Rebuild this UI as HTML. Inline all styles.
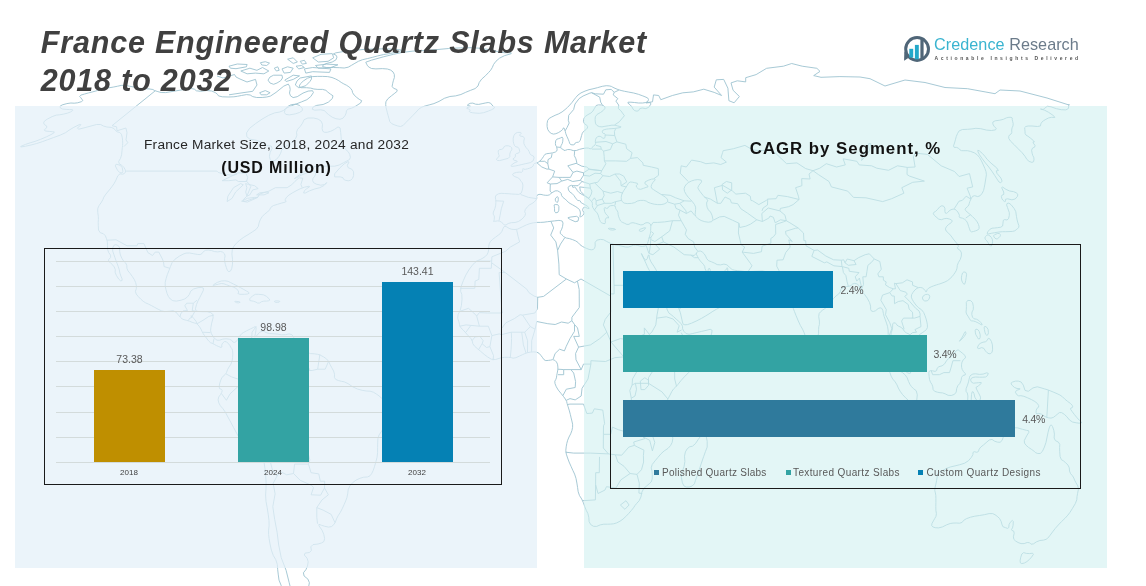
<!DOCTYPE html>
<html lang="en">
<head>
<meta charset="utf-8">
<title>France Engineered Quartz Slabs Market 2018 to 2032</title>
<style>
html,body{margin:0;padding:0;background:#fff;}
body{width:1146px;height:586px;position:relative;overflow:hidden;font-family:"Liberation Sans",sans-serif;}
.abs{position:absolute;}
#title{left:40.8px;top:22.5px;font-size:30.5px;line-height:38px;font-weight:bold;font-style:italic;color:#404040;white-space:nowrap;letter-spacing:0.81px;}
.panel{position:absolute;top:106px;height:462px;}
#pl{left:15px;width:522.4px;background:rgba(228,240,248,0.73);}
#pr{left:584px;width:523px;background:rgba(208,240,240,0.6);}
.box{position:absolute;border:1px solid #1a1a1a;box-sizing:border-box;}
#bl{left:44px;top:248px;width:458px;height:237px;}
#br{left:610px;top:244px;width:471px;height:245px;}
.grid{position:absolute;left:56px;width:434px;height:1px;background:#d3dbdb;}
.bar{position:absolute;}
.lbl{position:absolute;color:#595959;white-space:nowrap;}
.c{transform:translateX(-50%);}
</style>
</head>
<body>
<svg class="abs" id="map" style="left:0;top:0" width="1146" height="586" viewBox="0 0 1146 586"><g fill="none" stroke="#9dc3d0" stroke-width="0.9" stroke-linejoin="round"><path d="M121.1 85.4L125.1 85.4L129.6 86.2L133.9 87.1L137.8 88.0L142.9 88.6L149.0 88.9L152.9 89.5L154.3 90.4L157.1 91.4L161.1 92.5L165.7 92.6L170.9 91.7L176.9 90.7L183.6 89.6L188.6 88.9L191.8 88.6L194.4 89.2L196.4 90.8L200.5 91.3L206.8 90.5L211.7 91.0L215.3 92.6L217.5 94.3L218.5 95.9L222.3 96.8L228.9 97.0L233.9 96.8L237.3 96.3L241.4 95.5L246.5 94.6L250.2 95.0L252.7 96.6L256.7 97.5L262.2 97.5L266.8 97.0L270.4 96.1L276.0 92.4L283.8 86.1L288.3 84.1L289.7 86.5L290.2 89.5L289.5 93.1L290.5 95.8L293.1 97.6L297.2 96.7L303.0 93.1L308.1 91.1L312.5 90.7L313.4 92.5L310.8 96.5L306.9 99.7L301.7 101.8L295.9 104.1L289.7 106.5L285.5 108.6L283.3 110.6L279.7 112.0L274.6 112.9L268.7 115.3L262.0 119.2L255.7 123.5L249.6 128.3L246.6 132.8L246.8 136.7L249.9 139.2L256.1 140.2L260.8 141.9L263.8 144.2L267.2 145.6L271.2 146.0L272.1 148.4L270.1 152.6L269.4 156.3L270.1 159.3L271.6 160.9L274.0 160.9L276.5 159.3L279.0 156.3L280.7 153.2L281.6 150.2L284.5 147.2L289.4 144.2L293.2 141.2L295.8 138.2L296.9 135.2L296.5 132.3L297.6 129.3L300.3 126.4L302.5 123.2L304.1 119.7L307.9 118.0L313.7 118.0L318.1 119.1L321.2 121.2L322.5 124.4L322.1 128.6L322.8 131.3L324.5 132.3L327.1 132.3L330.7 131.3L334.3 129.5L338.0 126.9L340.1 127.9L340.7 132.5L341.1 136.7L341.3 140.7L342.3 144.2L343.9 147.2L345.9 149.7L348.2 151.7L349.7 154.3L350.4 157.3L349.5 159.5L346.8 161.0L343.4 162.8L339.2 165.0L334.6 166.2L329.8 166.2L323.7 166.2L316.4 166.2L310.0 167.9L304.4 171.4L299.2 175.0L294.4 178.5L295.2 178.5L301.7 175.0L307.6 172.5L313.1 171.0L315.8 171.5L315.6 174.0L314.7 176.3L313.0 178.4L312.6 180.5L313.5 182.6L316.2 184.1L320.8 185.2L324.3 184.6L326.8 182.6L326.6 182.9L323.9 185.6L319.8 187.7L314.3 189.1L309.4 190.9L305.3 193.0L303.6 193.0L304.4 190.9L306.4 188.8L309.7 186.7L309.1 186.2L304.5 187.2L300.1 188.8L296.0 190.9L292.2 193.0L288.9 195.1L286.6 197.2L285.3 199.3L285.2 200.7L286.3 201.3L285.0 202.2L281.1 203.2L277.3 204.4L273.3 205.6L270.8 207.4L269.6 209.8L267.5 212.0L264.6 214.1L262.1 216.7L260.2 219.9L259.0 223.1L258.4 226.3L256.2 229.3L252.2 232.0L248.0 234.7L243.8 237.2L239.8 240.1L236.3 243.3L233.7 246.5L232.3 249.7L231.9 254.0L232.5 259.3L232.5 264.1L231.8 268.3L230.6 270.9L228.9 271.7L227.5 270.7L226.4 267.7L225.4 264.6L224.7 261.4L224.6 258.5L225.1 256.0L224.5 253.8L222.7 252.1L220.5 251.5L217.7 251.9L214.6 251.6L211.3 250.5L208.3 250.1L205.6 250.3L203.5 251.5L202.0 253.6L200.0 254.6L197.3 254.4L193.9 253.8L189.6 253.0L186.0 253.1L183.0 254.2L179.3 256.2L175.0 259.2L172.1 262.6L170.5 266.4L169.0 270.4L167.3 274.7L166.1 278.6L165.2 282.3L165.2 286.0L166.0 289.8L167.0 293.3L168.4 296.5L170.3 299.0L172.8 300.7L176.4 301.1L181.1 300.2L184.8 298.9L187.5 296.9L189.4 294.4L190.7 291.2L193.5 289.0L198.0 287.7L201.2 287.4L203.3 288.0L203.4 290.2L201.5 294.1L199.7 297.6L198.0 300.8L196.5 304.5L195.4 308.8L196.2 311.1L198.9 311.5L202.6 311.7L207.2 311.7L210.6 312.6L212.8 314.3L213.1 317.8L211.7 323.1L210.9 327.4L210.6 330.6L211.4 333.8L213.4 337.0L215.3 339.1L217.1 340.2L219.6 340.2L222.8 339.1L226.1 338.8L229.4 339.2L231.7 340.3L232.9 342.0L234.3 342.5L235.8 341.9L237.6 339.7L239.7 336.1L241.7 333.7L243.7 332.4L246.6 330.8L250.5 328.9L253.4 327.5L255.3 326.6L256.2 327.7L255.9 330.7L255.4 333.8L254.6 337.0L256.1 336.4L259.7 332.2L263.1 330.9L266.1 332.6L269.7 333.6L274.0 333.8L278.0 334.2L281.6 334.8L285.4 334.7L289.1 333.9L291.9 334.7L293.6 337.3L294.9 339.6L295.7 341.8L297.9 344.4L301.5 347.6L304.7 350.3L307.4 352.4L310.6 353.6L314.3 353.8L317.6 354.3L320.3 355.2L323.3 356.7L326.4 358.8L328.7 361.4L330.1 364.6L331.8 367.8L333.6 371.0L334.5 374.2L334.4 377.4L335.8 379.5L338.6 380.6L341.4 381.3L344.2 381.8L348.0 383.6L352.7 386.8L357.4 389.0L362.1 390.3L366.3 391.0L370.1 391.2L373.4 392.2L376.2 393.9L379.0 395.9L381.8 398.3L384.9 399.9L388.1 400.7L390.2 403.3L391.2 407.5L391.6 411.6L391.3 415.4L389.9 418.9L387.2 422.1L385.0 425.3L383.3 428.5L381.3 431.7L379.1 434.9L377.9 438.6L377.7 442.9L377.6 447.4L377.6 452.3L377.1 457.1L375.9 461.8L374.6 466.3L373.2 470.5L371.6 473.7L370.0 475.8L367.4 477.0L363.7 477.2L359.9 478.3L355.9 480.2L352.5 482.8L349.8 486.0L348.2 489.7L347.7 493.9L346.9 497.7L345.7 500.9L344.1 504.6L342.2 508.8L340.2 512.6L338.1 515.8L336.5 518.9L335.4 522.1L333.7 524.7L331.5 526.6L328.5 527.1L324.8 526.3L321.6 525.3L318.9 524.3L319.0 525.9L322.0 530.1L323.8 534.4L324.6 538.6L323.9 541.5L321.7 542.9L318.1 544.0L313.0 544.6L310.8 546.8L311.4 550.4L309.5 552.5L305.1 553.1L304.3 555.0L307.1 558.2L308.2 561.8L307.5 566.0L305.9 569.7L303.4 572.8L304.1 576.0L307.9 579.1L309.4 582.7L308.6 586.9L307.8 590.5L306.8 593.6L307.4 596.4L309.7 599.1L310.1 600.6L308.5 601.0L307.2 602.5L306.2 605.2L303.7 605.7L299.7 604.1L295.0 601.2L289.6 597.1L285.0 592.0L281.3 585.8L279.0 580.1L278.3 574.9L277.7 569.7L277.3 564.5L275.8 559.7L273.3 555.5L271.4 550.2L270.0 543.9L269.1 538.6L268.6 534.4L268.6 530.1L269.1 525.9L269.0 520.5L268.2 514.2L267.2 507.8L266.0 501.4L265.6 495.0L266.0 488.6L266.1 482.2L265.7 475.8L265.0 468.7L263.8 460.8L261.5 455.5L258.0 452.8L253.3 449.6L247.4 445.9L243.0 442.5L240.3 439.3L238.0 435.8L236.0 432.0L233.5 427.4L230.7 422.1L227.9 417.0L225.3 412.1L222.7 408.4L220.4 405.8L218.8 402.9L218.1 399.8L218.7 397.0L220.5 394.6L221.7 392.5L222.2 390.6L221.5 389.3L219.6 388.7L219.1 386.6L219.9 382.9L220.8 380.1L221.8 377.9L223.2 376.1L225.1 374.6L226.5 372.5L227.5 369.7L229.0 367.0L230.9 364.2L232.1 361.0L232.6 357.4L232.8 354.0L232.6 350.8L232.1 348.9L231.4 348.2L230.7 347.2L230.0 345.7L228.6 343.9L226.5 341.8L224.5 341.5L222.5 343.2L221.7 345.1L221.9 347.0L221.0 347.5L218.8 346.6L216.5 345.6L214.2 344.3L212.2 343.3L210.5 342.7L208.6 340.9L206.3 337.9L204.5 335.5L203.2 333.6L202.0 331.4L201.0 329.1L199.6 326.9L197.9 324.7L196.2 323.4L194.4 323.0L192.1 322.3L189.5 321.2L186.8 320.4L184.0 319.7L182.0 318.8L180.7 317.5L178.6 315.3L175.9 312.1L173.1 310.7L170.3 311.1L167.5 311.4L164.7 311.6L161.6 310.9L158.1 309.2L154.7 307.4L151.3 305.5L148.3 304.0L145.7 302.9L143.2 301.3L140.8 299.2L138.4 296.7L136.2 294.0L135.4 291.3L136.3 288.8L136.4 285.9L135.7 282.7L134.3 279.5L132.2 276.3L130.1 273.4L128.0 270.9L126.9 268.2L126.8 265.4L125.7 263.0L123.5 260.9L121.8 258.2L120.4 255.0L119.7 251.6L119.7 248.0L118.4 245.7L115.8 244.6L113.9 245.3L112.7 247.9L112.7 251.0L113.9 254.6L115.0 257.8L116.0 260.6L117.1 263.5L118.3 266.7L119.3 269.9L119.9 273.1L120.9 276.1L122.1 278.9L122.1 280.5L120.7 280.9L118.8 279.2L116.3 275.3L115.1 272.2L115.3 269.6L114.2 266.9L111.9 264.2L110.0 262.3L108.5 261.2L108.7 259.6L110.6 257.5L110.6 255.1L108.7 252.6L107.6 249.4L107.5 245.5L107.4 242.8L107.2 241.1L106.5 238.7L105.4 235.8L103.3 233.7L100.2 232.7L98.5 230.0L98.3 225.8L98.2 222.3L98.4 219.5L98.3 216.3L97.8 212.7L97.7 210.0L97.9 208.1L99.2 205.4L101.5 202.1L103.0 199.3L103.8 197.2L105.9 194.1L109.4 189.9L112.1 186.4L114.0 183.7L115.9 180.2L117.8 175.8L120.0 173.8L122.5 174.2L124.3 173.6L125.5 172.0L125.3 169.9L123.9 167.4L121.8 165.3L119.2 163.7L118.7 161.4L120.5 158.3L121.6 154.8L122.0 150.7L122.3 147.7L122.6 145.6L122.7 143.2L122.6 140.2L122.2 137.2L121.4 134.2L119.8 132.5L117.4 131.9L115.5 130.6L114.1 128.6L111.2 127.4L106.9 127.0L103.4 126.0L100.7 124.5L96.6 124.5L91.0 126.0L85.1 127.6L78.8 129.2L77.4 128.2L80.9 124.7L79.7 124.4L73.9 127.3L69.2 130.1L65.5 132.7L60.3 135.1L53.7 137.5L47.7 139.7L42.3 141.7L36.7 143.5L31.0 145.0L25.7 146.2L20.8 147.0L20.8 146.4L25.5 144.4L30.2 142.8L35.0 141.4L40.4 139.4L46.5 136.8L51.0 134.6L53.9 132.9L54.3 131.9L52.3 131.7L49.2 131.4L45.2 131.0L44.3 129.8L46.7 127.8L46.7 126.0L44.3 124.5L43.6 122.9L44.4 121.2L47.3 119.1L52.1 116.6L56.3 115.1L59.7 114.8L63.5 114.1L67.6 113.1L70.7 111.9L72.8 110.4L72.4 109.6L69.5 109.6L66.2 109.4L62.4 109.0L60.4 108.0L60.0 106.3L62.2 104.9L66.9 103.6L70.9 103.0L74.2 103.2L77.6 102.8L81.4 101.7L82.8 100.5L81.9 99.2L80.9 97.8L79.6 96.4L80.9 95.1L84.6 94.0L88.6 92.9L92.9 91.8L97.6 90.5L102.5 89.1L107.7 88.0L113.2 87.1L117.7 86.2L121.1 85.4 M365.8 62.2L371.4 60.2L383.2 56.9L393.5 54.3L402.5 52.4L412.9 51.1L424.7 50.5L436.6 49.6L448.7 48.5L460.2 47.9L471.3 47.7L480.9 48.3L489.0 49.6L495.0 50.8L498.9 52.1L504.3 52.7L511.1 52.7L511.2 53.7L504.7 55.6L499.6 58.1L496.0 61.2L493.6 64.4L492.3 67.5L490.6 70.3L488.4 72.7L485.5 75.7L481.7 79.1L479.2 82.5L478.0 86.0L475.1 88.6L470.4 90.4L465.7 92.3L460.9 94.5L455.6 95.9L449.9 96.5L444.4 98.3L439.0 101.4L433.9 103.6L429.2 104.9L425.1 106.0L421.8 107.1L418.8 109.1L416.2 112.0L413.0 115.3L409.2 119.2L405.9 122.5L403.2 125.4L400.5 126.5L397.8 126.0L394.9 125.0L391.8 123.7L389.8 121.6L389.0 118.7L388.2 115.8L387.4 112.9L386.7 110.1L386.0 107.3L385.7 104.5L385.9 101.8L387.8 98.8L391.6 95.7L394.8 93.2L397.2 91.2L396.8 89.5L393.6 88.3L392.1 86.4L392.6 83.8L393.3 80.8L394.4 77.4L394.3 74.4L393.0 71.9L390.7 70.1L387.4 69.0L382.4 68.6L375.9 68.9L371.5 68.5L369.1 67.2L367.5 65.8L366.7 64.2L366.1 63.0L365.8 62.2 M606.3 85.7L602.3 86.3L597.4 87.7L593.0 88.8L589.0 89.7L585.0 91.1L581.0 92.9L578.0 95.0L575.9 97.4L573.9 99.9L571.8 102.7L569.7 105.1L567.5 107.4L565.0 109.6L562.1 111.9L558.8 113.8L555.1 115.3L551.9 116.9L549.2 118.4L547.6 120.6L547.1 123.5L547.1 126.4L547.7 129.3L549.1 131.7L551.2 133.4L553.5 134.1L555.8 133.7L558.3 132.7L561.1 130.9L562.8 129.3L563.4 127.9L564.1 128.1L564.8 129.9L565.4 131.8L565.8 133.7L566.8 136.2L568.2 139.2L569.2 141.7L569.7 143.6L571.0 144.7L573.2 144.9L574.5 144.4L574.9 143.3L576.3 142.5L578.6 142.1L580.2 140.6L580.9 138.0L581.6 135.5L582.3 133.2L583.8 131.2L586.0 129.6L587.3 128.1L587.7 126.7L586.8 125.3L584.5 123.8L583.5 121.7L583.7 119.3L584.5 117.3L585.9 116.0L588.0 114.6L590.9 113.0L592.9 111.1L594.2 108.8L595.3 107.0L596.2 105.5L598.3 104.9L601.5 105.0L603.8 105.8L605.0 107.1L604.8 108.6L603.1 110.6L600.5 112.5L597.1 114.4L595.3 116.8L595.1 119.6L595.3 122.0L595.7 123.9L597.0 125.5L599.3 126.6L602.0 126.9L604.9 126.3L608.2 125.8L611.9 125.2L614.9 125.2L617.2 125.8L619.2 126.3L621.1 126.9L620.4 127.5L617.2 128.1L614.1 128.5L611.1 128.7L608.6 128.9L606.7 129.1L604.9 129.5L603.1 130.1L602.3 131.2L602.6 132.8L603.3 133.5L604.5 133.5L605.1 134.5L605.1 136.5L604.8 137.8L604.0 138.4L602.7 138.0L600.8 136.6L599.0 136.2L597.4 136.8L596.2 138.0L595.5 139.8L595.3 141.7L595.6 143.6L594.9 145.2L593.2 146.4L592.0 147.5L591.3 148.6L590.1 148.8L588.5 148.1L586.2 148.0L583.0 148.5L579.7 149.3L576.3 150.5L573.2 150.6L570.3 149.6L567.7 149.5L565.4 150.3L564.0 150.4L563.7 149.8L563.0 149.3L561.7 148.9L560.9 148.1L560.7 147.1L561.1 145.6L562.2 143.6L562.8 141.2L562.9 138.2L562.1 137.1L560.6 137.9L558.8 138.6L556.8 139.2L555.7 140.8L555.4 143.4L555.6 145.2L556.4 146.4L556.9 147.9L557.1 149.8L556.7 151.1L555.6 151.9L554.1 152.5L552.4 152.9L549.9 153.3L546.7 153.7L544.9 154.4L544.3 155.2L543.5 156.5L542.3 158.3L541.0 159.9L539.9 161.1L538.6 162.0L537.3 162.6L535.9 163.1L534.4 163.5L533.5 164.4L533.2 165.9L532.0 167.1L529.8 168.1L527.6 168.8L525.3 169.3L523.8 169.2L523.2 168.5L522.8 169.3L522.7 171.3L521.5 172.3L519.2 172.1L516.6 172.4L513.8 173.2L512.6 174.2L513.1 175.5L514.8 176.6L517.7 177.7L519.5 178.8L520.2 180.1L521.2 181.4L522.4 182.9L522.9 185.1L522.7 188.0L522.1 190.7L521.1 193.2L518.8 194.4L515.3 194.2L511.7 194.0L508.0 193.7L504.4 193.5L501.1 193.3L498.3 193.9L496.2 195.1L495.3 197.0L495.7 199.5L495.9 202.3L495.7 205.2L494.9 208.5L493.4 212.1L493.1 214.3L494.0 215.2L494.4 217.0L494.2 219.7L493.9 221.2L493.5 221.4L494.7 221.3L497.6 220.9L499.8 221.2L501.5 222.3L503.0 223.5L504.3 225.0L506.0 225.0L508.2 223.5L511.3 222.7L515.1 222.5L518.4 221.5L521.1 219.8L523.3 217.8L525.0 215.5L525.5 213.5L524.7 211.8L525.3 209.5L527.4 206.8L529.6 204.8L532.1 203.5L534.2 202.0L536.0 200.1L536.8 198.2L536.6 196.3L537.3 195.0L539.0 194.4L541.0 194.4L543.4 195.0L545.7 195.3L547.9 195.3L549.7 194.7L551.0 193.4L552.9 192.2L555.1 190.9L557.4 190.8L559.7 191.9L561.1 193.4L561.6 195.5L562.9 197.4L565.1 199.1L566.9 200.7L568.2 202.2L570.1 203.5L572.5 204.8L575.1 206.3L577.8 208.0L579.6 209.9L580.3 212.0L580.4 214.1L579.9 216.2L580.3 217.0L581.7 216.3L582.9 215.3L583.9 213.8L583.9 212.3L582.8 210.8L582.7 209.2L583.6 207.5L585.2 207.2L587.6 208.3L588.9 208.6L589.1 208.2L588.7 207.4L587.6 206.4L585.4 205.0L582.2 203.3L580.5 202.1L580.5 201.2L579.7 200.7L577.9 200.5L576.1 198.8L574.0 195.6L571.9 193.3L569.7 191.9L568.5 190.0L568.1 187.7L569.2 186.1L571.5 185.3L572.6 185.6L572.4 187.0L573.1 187.5L574.6 187.1L576.0 188.2L577.4 190.7L579.1 192.6L581.1 193.9L583.2 195.1L585.5 196.4L587.6 197.8L589.7 199.5L591.2 200.9L592.0 202.0L592.4 203.5L592.3 205.6L592.8 207.5L593.9 209.2L595.3 211.0L597.1 212.9L598.2 215.1L598.8 217.4L599.5 219.5L600.3 221.4L601.3 222.7L602.8 223.3L604.0 223.6L605.0 223.6L605.4 222.7L605.2 220.8L605.5 219.2L606.3 217.9L607.2 217.6L608.1 218.2L608.5 218.0L608.5 217.0L607.5 215.6L605.8 213.9L604.6 211.6L604.2 208.6L604.8 207.5L606.6 208.4L607.9 208.1L608.7 206.6L610.5 205.7L613.4 205.5L615.1 206.1L615.5 207.3L615.7 208.2L615.7 208.6L616.3 209.5L617.4 211.0L618.0 212.6L618.1 214.3L618.5 216.2L619.3 218.3L620.0 219.9L620.6 221.0L621.5 221.8L622.8 222.5L624.6 223.3L626.9 224.4L629.0 224.3L630.8 223.0L633.0 222.7L635.5 223.3L638.1 224.1L640.8 224.9L643.1 224.6L645.1 223.1L647.1 222.6L649.0 223.0L650.2 223.9L650.7 225.1L650.8 226.8L650.7 228.9L650.6 230.5L650.7 231.6L650.3 233.7L649.4 236.9L648.7 239.6L648.1 241.7L647.5 243.5L646.7 245.0L645.1 246.0L642.8 246.4L641.0 246.4L639.7 246.0L637.9 245.5L635.6 245.1L633.5 245.2L631.8 245.9L630.0 246.5L628.3 247.1L625.6 247.0L622.0 246.2L618.4 245.4L614.8 244.8L611.6 243.8L608.9 242.6L606.2 241.2L603.5 239.7L600.4 239.4L596.8 240.2L595.1 242.5L595.2 246.1L594.5 248.4L593.1 249.5L591.3 249.8L589.1 249.4L586.3 248.3L582.7 246.6L580.0 244.7L578.2 242.6L575.7 240.9L572.5 239.6L569.4 238.6L566.3 238.0L564.2 237.0L563.0 235.8L561.7 234.6L560.3 233.5L560.3 231.7L561.7 229.2L562.6 226.3L563.0 223.1L562.3 221.2L560.6 220.6L558.9 220.4L557.1 220.6L554.5 220.9L551.0 221.3L547.5 221.7L544.0 222.2L540.5 222.4L537.0 222.4L533.5 222.8L529.9 223.6L526.4 224.9L522.8 226.6L519.9 228.0L517.7 229.1L515.0 229.5L511.9 229.3L509.1 228.4L506.8 226.9L505.1 226.3L504.2 226.5L503.2 228.2L501.9 231.4L500.2 233.7L498.2 235.2L495.6 237.1L492.4 239.5L490.3 241.7L489.2 243.8L488.7 246.5L488.7 249.7L488.1 252.4L487.1 254.5L485.4 256.4L482.9 258.1L480.3 259.5L477.6 260.6L474.7 262.7L471.8 265.9L468.8 270.0L465.8 275.1L463.3 280.7L461.1 286.6L460.6 291.2L461.8 294.4L462.0 299.2L461.4 305.6L460.1 310.7L458.1 314.5L457.7 318.2L458.9 321.9L459.5 324.4L459.7 325.9L460.8 327.7L463.0 329.8L465.0 332.0L466.8 334.1L468.8 336.3L471.0 338.7L472.3 341.1L472.8 343.7L474.5 346.1L477.2 348.5L480.5 351.2L484.2 354.4L487.8 357.1L491.3 359.2L495.5 359.5L500.4 358.0L504.7 357.3L508.4 357.3L511.2 357.6L513.1 358.2L515.9 357.7L519.6 356.0L522.6 354.6L524.9 353.6L527.5 352.7L530.5 352.1L533.5 351.9L536.7 352.1L539.2 353.4L541.1 355.7L542.7 357.8L544.0 359.7L545.8 360.6L548.3 360.4L550.6 360.1L552.8 359.6L554.8 360.3L556.5 362.0L557.5 364.2L557.9 367.0L557.8 370.0L557.2 373.1L556.7 375.8L556.4 377.9L555.7 379.7L554.8 381.2L555.0 383.6L556.3 386.8L558.3 390.1L561.1 393.5L563.5 396.5L565.3 399.0L566.6 401.3L567.1 403.5L568.1 406.7L569.4 410.9L570.4 414.7L571.1 417.8L571.9 421.0L572.6 424.2L572.6 427.4L571.9 430.6L570.7 433.8L569.0 437.0L567.7 440.2L566.8 443.4L566.2 446.8L565.8 450.4L566.3 454.1L567.6 458.0L569.1 462.0L571.0 466.3L572.8 470.3L574.6 474.1L576.0 478.4L576.9 483.1L577.6 487.6L578.2 491.8L579.5 495.6L581.7 499.0L583.4 502.8L584.8 506.8L586.3 510.4L587.9 513.6L588.8 517.3L589.1 521.6L590.7 524.6L593.5 526.3L596.7 526.4L600.2 524.9L603.8 524.2L607.3 524.2L610.6 524.1L613.6 523.8L616.7 522.9L620.0 521.2L623.0 519.1L625.8 516.5L628.6 513.6L631.4 510.4L633.5 507.8L634.9 505.6L636.8 503.3L639.2 500.7L640.9 497.0L641.9 492.1L643.8 488.4L646.8 485.8L649.3 483.7L651.2 482.0L652.2 479.0L652.3 474.8L652.0 471.1L651.2 467.9L652.2 464.5L655.1 460.8L658.0 457.3L660.9 453.9L664.2 450.9L668.0 448.4L670.6 445.5L672.2 442.3L672.8 438.6L672.4 434.3L672.1 430.1L672.0 425.8L671.2 421.6L669.6 417.3L668.6 413.4L668.3 409.8L667.7 406.6L666.8 403.8L667.0 401.0L668.3 398.3L670.0 395.1L671.8 391.5L673.7 388.8L675.6 387.1L678.0 384.4L680.8 380.8L684.3 376.9L688.6 372.6L692.8 368.4L696.9 364.1L700.3 359.3L703.0 354.0L705.2 349.2L707.0 344.9L708.8 340.8L710.5 336.8L711.7 333.2L712.1 330.3L710.2 329.3L706.0 330.4L701.6 331.4L696.9 332.5L692.8 333.5L689.1 334.3L686.1 333.6L683.8 331.2L682.6 328.8L682.5 326.2L681.3 323.8L678.8 321.4L676.1 319.0L673.3 316.4L670.9 314.5L669.0 313.2L667.3 310.0L665.9 304.9L663.9 301.3L661.4 299.2L659.9 296.0L659.4 291.7L658.4 288.0L656.8 284.8L655.2 281.6L653.6 278.4L651.7 274.7L649.3 270.4L647.4 266.7L646.0 263.5L644.1 259.4L641.7 254.3L641.4 253.5L643.2 257.1L644.7 259.4L646.0 260.2L647.2 258.8L648.3 255.2L649.0 255.0L649.4 258.2L651.0 261.9L653.9 266.2L656.2 270.1L657.8 273.7L660.3 278.0L663.6 282.9L666.2 287.5L668.2 291.7L670.7 296.0L673.6 300.2L676.3 304.2L678.6 307.8L680.4 312.8L681.8 319.2L682.7 323.0L683.3 324.3L684.9 324.8L687.5 324.6L691.5 323.2L697.0 320.7L701.6 318.3L705.2 316.2L709.0 313.9L712.9 311.3L716.5 309.2L719.8 307.5L722.7 305.7L725.4 303.8L728.0 301.6L730.6 299.3L732.6 296.5L733.8 293.3L735.4 291.2L737.1 290.1L738.8 288.0L740.4 284.8L740.0 282.0L737.6 279.7L735.0 278.1L732.0 277.3L729.9 275.8L728.6 273.6L727.9 271.2L727.6 268.4L727.2 267.7L726.6 269.0L725.7 270.0L724.5 270.9L723.1 272.3L721.4 274.2L718.9 275.3L715.7 275.8L713.1 275.6L711.2 274.7L710.3 273.0L710.3 270.4L709.9 268.9L709.1 268.2L708.4 269.1L707.9 271.4L707.0 271.8L705.8 270.3L705.0 268.5L704.7 266.4L703.4 264.3L701.3 262.1L699.7 260.2L698.6 258.5L697.6 256.6L696.5 254.5L696.5 252.9L697.4 251.8L698.7 251.2L700.3 251.0L702.1 251.8L704.1 253.7L705.6 256.1L706.8 258.8L708.7 260.8L711.5 261.8L714.4 263.1L717.2 264.6L720.4 264.9L723.9 264.1L726.9 264.8L729.3 267.1L731.1 268.7L732.3 269.6L734.4 270.2L737.6 270.7L741.0 271.1L744.6 271.5L748.7 271.6L753.3 271.4L757.8 271.2L762.3 271.0L765.1 271.5L766.1 272.8L767.7 274.6L769.7 276.9L771.7 279.2L773.7 281.3L774.8 282.8L774.9 283.6L776.2 285.6L778.9 288.5L781.3 290.1L783.5 290.3L785.2 289.7L786.4 288.2L787.5 288.0L788.7 289.1L789.5 291.7L789.9 296.0L790.7 300.2L792.0 304.5L793.2 308.2L794.4 311.4L796.1 315.7L798.3 321.0L800.4 325.5L802.5 329.1L804.0 332.4L805.1 335.4L806.4 338.6L807.8 342.0L809.0 343.9L810.0 344.3L811.1 343.7L812.3 342.0L813.6 340.7L815.1 339.8L816.5 338.3L817.9 336.2L818.6 333.3L818.6 329.7L818.8 326.7L819.4 324.4L819.4 321.0L818.7 316.5L819.2 313.4L820.7 311.7L822.6 310.1L824.8 308.7L826.9 306.7L828.9 304.4L831.2 301.6L833.6 298.4L836.1 295.9L838.7 294.0L840.3 291.8L840.9 289.5L842.3 287.9L844.4 287.1L846.6 286.5L849.0 286.3L851.0 285.5L852.6 284.0L854.6 283.4L857.1 283.9L859.0 285.7L860.3 288.9L862.2 291.8L864.7 294.6L867.2 298.1L869.5 302.4L870.6 306.1L870.6 309.3L871.5 311.1L873.4 311.5L875.6 310.7L878.2 308.5L880.2 307.8L881.8 308.4L882.8 310.4L883.4 313.5L884.2 316.7L885.4 319.9L886.5 323.1L887.5 326.3L888.1 330.0L888.2 334.3L888.2 338.2L888.0 341.9L889.1 345.1L891.5 347.8L893.5 350.3L895.1 352.4L895.9 354.5L896.0 356.7L896.5 359.3L897.3 362.5L898.4 365.0L899.7 366.7L901.4 368.3L903.5 369.7L905.5 371.2L907.4 372.7L909.1 373.4L910.6 373.1L910.6 371.6L909.0 368.6L908.1 365.3L907.8 361.7L906.8 358.5L905.0 355.7L903.6 353.8L902.6 352.7L901.2 351.5L899.2 350.3L897.8 349.2L896.8 348.4L895.8 346.6L894.7 344.1L893.5 342.0L892.1 340.3L891.3 338.1L890.9 335.6L891.2 332.9L892.1 330.2L892.6 327.2L892.7 324.0L893.7 322.7L895.6 323.3L896.6 324.1L896.7 324.9L898.2 326.0L901.0 327.3L903.0 329.0L904.2 331.1L906.2 332.8L909.1 334.1L911.1 336.2L912.2 339.2L912.6 341.1L912.2 342.0L913.6 341.1L916.6 338.6L918.4 336.6L918.8 335.4L920.1 334.1L922.2 332.8L924.3 331.3L926.4 329.6L927.4 327.5L927.4 324.9L926.9 322.1L926.1 318.9L925.0 315.7L923.7 312.5L921.6 309.8L918.5 307.7L915.9 305.0L913.6 301.8L912.1 299.2L911.3 297.1L911.6 294.7L913.1 292.2L914.9 290.0L917.0 288.3L919.0 287.5L920.8 287.5L922.5 288.0L923.9 289.1L925.0 290.3L925.8 291.8L926.5 291.6L927.1 289.7L928.7 288.1L931.2 286.8L933.8 285.8L936.4 284.9L938.4 284.3L939.8 283.9L942.0 283.1L944.9 282.0L947.6 280.6L950.0 278.6L952.0 276.7L953.5 274.8L954.9 272.8L956.2 270.7L957.0 268.2L957.3 265.4L958.4 262.5L960.3 259.3L961.3 256.1L961.4 252.9L960.3 250.5L958.1 249.1L957.4 247.7L958.4 246.4L957.8 244.5L955.6 241.9L953.3 239.1L951.0 235.9L948.6 233.2L946.2 231.1L945.4 228.9L946.3 226.8L948.3 224.7L951.3 222.6L952.3 221.0L951.4 219.9L949.6 219.1L946.9 218.4L944.2 218.7L941.4 219.7L938.8 219.2L936.2 217.1L934.4 215.3L933.3 213.8L933.7 212.5L935.5 211.4L937.5 209.5L939.8 206.8L941.9 205.7L943.9 206.4L944.9 208.3L944.9 211.4L945.4 213.1L946.3 213.4L947.6 212.6L949.1 210.9L951.0 209.7L953.1 209.1L955.0 209.3L956.4 210.4L957.8 212.0L959.0 214.1L959.4 215.7L959.0 216.7L960.0 217.6L962.5 218.2L964.6 219.3L966.3 220.8L967.6 223.1L968.6 226.3L969.5 228.9L970.3 231.1L971.6 231.9L973.4 231.5L975.5 230.9L977.8 230.0L979.0 228.6L979.1 226.7L978.5 224.5L977.2 221.9L975.2 219.3L972.4 216.5L969.7 214.1L967.1 212.0L965.6 210.4L965.1 209.3L965.8 208.1L967.6 206.6L968.8 205.0L969.3 203.3L969.8 201.6L970.5 200.0L971.4 198.2L972.6 196.3L974.7 195.7L977.7 196.6L980.2 195.7L982.2 193.2L983.6 190.4L984.3 187.2L984.9 184.1L985.4 181.0L985.9 177.9L986.4 174.8L986.0 171.7L984.9 168.5L983.3 164.9L981.5 160.9L979.5 157.5L977.3 154.9L974.3 152.8L970.5 151.4L967.5 150.7L965.1 150.7L963.1 150.7L961.6 150.7L960.0 149.9L958.5 148.2L956.5 147.4L954.2 147.4L953.5 145.9L954.5 143.0L955.4 139.8L956.3 136.4L957.6 133.4L959.1 130.9L962.4 129.5L967.5 129.3L972.0 128.9L975.9 128.3L980.8 128.7L986.6 130.1L991.5 130.5L995.5 129.9L996.2 128.4L993.9 126.1L992.8 123.9L992.9 122.0L995.2 120.8L999.8 120.2L1003.4 119.3L1006.3 117.9L1008.9 117.3L1011.1 117.3L1012.2 117.9L1012.2 119.3L1012.6 121.2L1013.2 123.7L1013.0 125.9L1012.1 127.8L1011.7 130.0L1011.8 132.4L1011.1 134.0L1009.5 135.0L1008.7 136.5L1008.8 138.5L1010.7 141.3L1014.3 144.8L1018.1 148.7L1022.1 152.7L1025.0 156.3L1026.8 159.3L1029.1 161.4L1031.9 162.4L1033.6 161.7L1034.0 159.2L1033.7 157.2L1032.8 155.6L1032.1 153.2L1031.6 150.2L1032.5 148.1L1034.7 147.1L1035.0 145.4L1033.3 143.1L1033.1 141.9L1034.4 141.9L1033.4 140.6L1030.3 138.0L1027.9 136.2L1026.1 135.2L1025.1 133.5L1025.0 131.2L1024.8 129.2L1024.7 127.6L1025.8 126.5L1028.1 126.0L1032.0 126.0L1037.6 126.5L1040.5 125.9L1040.8 123.9L1041.8 122.2L1043.6 120.7L1045.9 119.3L1048.7 117.9L1051.6 117.3L1054.8 117.5L1053.7 115.8L1048.4 112.2L1044.2 110.0L1041.1 109.2L1040.5 109.0L1042.4 109.4L1043.8 109.1L1044.8 108.2L1046.0 107.2L1047.5 106.3L1051.0 106.8L1056.4 108.7L1061.3 109.7L1065.9 109.9L1068.4 108.5L1068.8 105.5L1069.0 104.3L1069.0 105.0L1047.0 98.0L1020.0 91.0L1000.0 90.0L995.0 93.7L967.5 88.7L945.0 87.5L925.0 82.5L905.0 80.0L885.0 86.0L870.0 78.7L860.0 77.0L839.9 76.6L821.0 77.3L813.7 75.6L820.0 71.4L816.9 68.3L802.2 66.2L791.7 63.5L783.4 66.2L766.6 68.3L756.1 74.6L745.7 77.7L745.7 81.9L737.3 80.8L731.0 82.9L733.1 90.3L739.4 96.5L734.1 102.8L728.9 100.7L727.9 88.2L723.7 79.4L716.3 79.8L714.2 87.1L721.6 95.5L714.2 92.4L703.8 89.2L693.3 91.9L682.8 92.8L672.4 95.5L660.8 99.7L658.7 95.5L653.5 94.9L652.5 101.8L646.0 102.8L650.4 102.6L650.9 104.1L648.7 107.3L645.8 108.6L642.2 108.0L639.8 108.6L638.7 110.6L637.0 111.2L634.8 110.7L633.1 109.2L632.0 107.0L630.3 105.0L627.9 103.1L628.1 102.2L630.9 102.2L634.4 102.5L638.7 103.0L642.6 103.0L645.9 102.5L647.9 101.3L648.5 99.5L647.8 98.1L646.0 97.2L642.8 95.9L638.4 94.3L633.7 93.0L628.8 92.1L624.6 91.3L621.1 90.5L617.9 89.5L615.0 88.3L612.9 87.3L611.4 86.4L609.2 85.9L606.3 85.7 M627.2 203.6L624.1 203.1L622.4 201.8L621.4 200.0L621.2 197.4L621.6 195.1L622.4 193.0L623.7 190.7L625.4 188.2L627.0 185.7L628.4 183.2L630.2 182.0L632.4 182.2L634.8 182.7L637.3 183.3L637.8 184.2L636.3 185.5L636.4 187.0L638.3 188.9L640.7 189.3L643.6 188.3L646.0 187.4L648.0 186.8L647.6 185.6L644.9 183.7L645.1 181.9L648.2 180.3L651.4 179.2L654.7 178.8L655.2 179.9L653.0 182.3L651.6 184.6L651.1 186.7L651.7 188.4L653.5 189.6L655.9 191.2L659.0 193.1L662.2 195.1L665.5 197.2L667.4 199.2L667.8 201.1L666.7 202.7L664.1 204.0L661.1 204.6L657.7 204.6L654.2 204.2L650.7 203.3L648.0 202.3L646.2 201.0L643.6 200.4L640.2 200.4L637.2 201.1L634.8 202.6L631.4 203.4L627.2 203.6 M684.1 188.6L684.5 191.4L686.3 194.6L688.2 197.2L690.3 199.3L692.4 201.7L694.5 204.5L695.6 207.1L695.6 209.6L695.4 212.1L695.1 214.4L696.0 216.6L698.2 218.8L701.1 220.5L704.8 221.7L708.3 222.2L711.7 221.7L713.0 219.4L712.0 215.2L710.5 212.0L708.4 209.9L707.1 207.2L706.6 204.1L706.8 202.0L707.8 200.9L707.3 199.5L705.3 197.8L702.9 195.2L700.1 191.6L698.4 189.1L697.8 187.7L698.9 185.3L701.6 181.9L701.2 180.1L697.8 179.6L694.6 180.0L691.4 181.0L688.8 182.3L686.6 184.0L685.0 186.1L684.1 188.6 M703.6 431.9L705.7 433.8L707.2 441.3L707.2 447.1L705.5 451.4L703.6 456.7L701.4 463.1L699.3 469.5L697.1 475.8L695.4 480.6L694.4 483.8L692.2 486.0L689.1 487.0L686.3 487.0L684.0 486.0L682.4 482.8L681.4 477.4L681.9 472.1L684.0 466.8L684.9 461.5L684.5 456.2L685.4 451.9L687.3 448.7L689.7 446.8L692.5 446.2L695.4 443.7L698.3 439.4L701.1 435.5L703.6 431.9 M510.8 165.7L511.6 166.4L515.2 166.0L518.6 165.3L521.9 164.5L525.9 163.6L530.5 162.6L533.2 160.7L534.1 157.8L533.4 156.0L531.3 155.2L529.9 153.7L529.2 151.7L528.0 149.7L526.1 147.6L524.8 145.6L523.9 143.6L523.8 141.2L524.4 138.2L523.2 136.5L520.2 136.1L519.6 135.0L521.3 133.2L520.7 132.4L517.6 132.4L515.4 133.4L513.9 135.6L513.2 138.2L513.2 141.2L513.7 143.6L514.5 145.6L515.9 146.8L517.9 147.2L519.1 148.8L519.7 151.4L518.7 153.0L516.3 153.6L515.2 154.7L515.5 156.1L514.8 157.5L513.0 158.9L513.7 160.1L516.8 160.9L517.3 161.7L515.1 162.5L513.0 163.8L510.8 165.7 M508.2 158.4L509.8 156.7L509.8 154.1L510.5 151.7L511.8 149.7L511.8 147.9L510.4 146.5L508.4 145.8L505.7 145.8L504.1 146.6L503.4 148.3L501.8 149.3L499.4 149.7L498.2 150.8L498.3 152.6L498.6 154.3L499.2 155.7L498.6 157.1L496.8 158.5L496.5 159.6L497.6 160.5L499.5 160.6L502.0 160.0L504.9 159.2L508.2 158.4 M470.1 103.3L472.8 103.1L475.6 104.2L478.7 104.4L482.1 103.7L485.3 103.0L488.2 102.5L490.5 103.1L492.0 105.0L493.3 106.3L494.5 107.2L494.0 108.4L491.7 109.7L488.3 111.1L483.6 112.7L479.5 113.3L475.9 113.1L472.8 112.8L470.1 112.2L469.2 111.3L470.2 110.2L469.4 109.2L466.8 108.5L467.0 107.6L470.2 106.7L470.4 106.0L467.7 105.7L467.6 104.8L470.1 103.3 M987.3 233.8L988.7 233.9L991.3 233.3L994.7 232.7L998.9 232.0L1002.5 231.7L1005.7 231.7L1009.0 231.6L1012.5 231.4L1014.9 230.8L1016.2 229.7L1017.5 228.6L1018.7 227.6L1018.9 225.7L1017.9 222.9L1017.1 219.9L1016.5 216.7L1016.1 214.0L1015.8 211.7L1014.2 208.6L1011.2 204.8L1008.9 203.1L1007.0 203.5L1006.6 205.0L1007.5 207.5L1008.4 210.1L1009.3 212.6L1009.3 215.5L1008.5 218.7L1007.0 220.0L1004.7 219.6L1003.4 220.2L1003.1 221.9L1002.9 223.9L1002.6 226.0L1000.8 227.2L997.5 227.7L994.6 228.0L992.0 228.2L989.8 229.4L988.0 231.5L987.2 233.0L987.3 233.8 M1004.5 201.6L1005.4 201.4L1005.4 199.3L1007.6 198.8L1011.9 199.8L1015.2 199.0L1017.5 196.3L1017.8 194.2L1016.1 192.7L1013.4 191.6L1009.6 191.0L1006.0 189.4L1002.4 186.9L1001.7 187.8L1003.7 192.0L1003.8 194.4L1002.2 195.0L1001.4 196.3L1001.7 198.2L1002.7 200.0L1004.5 201.6 M987.1 235.0L988.4 235.1L990.1 236.0L991.4 237.5L992.4 239.6L992.6 241.9L992.1 244.5L991.4 245.9L990.6 246.1L989.5 245.0L988.1 242.7L986.8 240.8L985.3 239.3L984.9 237.9L985.5 236.6L986.3 235.6L987.1 235.0 M993.6 235.8L994.7 234.6L997.5 233.5L999.4 233.5L1000.3 234.6L1000.4 235.6L999.8 236.7L998.7 237.8L997.4 238.8L996.1 238.9L994.9 238.1L994.0 237.0L993.6 235.8 M999.0 182.0L1000.7 182.8L1002.1 181.1L1000.9 178.0L997.0 173.4L996.2 170.9L998.4 170.5L996.7 167.9L991.1 163.2L987.1 159.3L984.9 156.3L982.3 153.4L979.3 150.8L977.8 150.3L978.0 151.9L979.5 154.8L982.3 158.8L985.4 162.9L988.8 167.0L991.8 171.1L994.6 175.3L996.9 178.9L999.0 182.0 M962.5 273.0L963.9 271.9L965.8 272.4L966.6 274.2L966.2 277.4L965.7 280.6L964.9 283.8L963.9 284.3L962.4 282.2L961.6 280.0L961.4 277.9L961.7 275.6L962.5 273.0 M922.4 297.9L923.1 296.1L925.3 294.6L927.4 294.3L929.3 295.1L929.8 296.8L928.9 299.4L927.2 300.8L924.8 301.0L923.2 300.0L922.4 297.9 M818.9 340.4L820.1 339.3L822.8 341.6L824.8 344.1L826.0 346.6L826.2 349.0L825.3 351.1L823.9 352.5L821.8 353.1L820.4 351.9L819.5 348.7L819.0 344.8L818.9 340.4 M966.3 302.4L967.7 300.4L970.7 300.6L972.6 302.7L973.4 306.7L973.2 309.8L972.0 312.0L971.8 314.4L972.5 317.2L974.1 318.8L976.5 319.2L978.8 320.5L980.9 322.6L982.0 324.1L982.1 324.9L981.1 324.7L979.1 323.4L977.1 322.4L975.2 321.5L973.3 321.0L971.4 320.8L970.0 319.8L969.1 318.1L968.0 316.2L966.6 314.1L966.0 312.0L966.3 309.8L966.4 306.6L966.3 302.4 M988.3 338.3L989.7 338.7L991.4 341.4L992.4 344.9L992.6 349.2L992.1 352.1L990.7 353.6L989.0 353.8L987.1 352.7L985.4 350.9L983.9 348.4L981.7 347.6L978.8 348.7L977.5 348.1L978.0 346.0L979.1 344.3L980.9 343.0L983.0 342.2L985.4 341.8L987.1 340.5L988.3 338.3 M984.1 327.1L985.0 326.3L986.9 327.4L988.1 329.5L988.4 332.7L988.0 334.6L986.8 335.3L985.7 334.4L984.9 332.1L984.4 329.6L984.1 327.1 M975.2 330.2L976.0 329.1L977.9 329.7L979.3 331.6L980.2 334.8L980.2 337.3L979.4 339.0L978.5 339.0L977.4 337.3L976.6 335.9L975.9 334.8L975.4 332.9L975.2 330.2 M959.4 341.2L960.3 340.7L964.3 336.4L966.0 333.5L965.5 331.7L964.6 332.3L963.4 335.0L961.7 338.0L959.4 341.2 M928.9 372.2L929.4 371.1L930.5 370.7L932.4 370.8L935.0 371.4L936.6 370.6L937.1 368.3L938.9 366.7L942.1 365.8L944.6 363.9L946.4 360.9L948.6 358.5L951.3 356.5L953.8 354.0L956.1 350.8L958.1 349.8L959.8 351.1L962.2 353.0L965.1 355.6L965.5 357.8L963.3 359.7L962.0 362.1L961.5 364.8L961.6 367.3L962.2 369.4L963.5 371.6L965.4 373.7L965.2 375.0L963.0 375.4L961.6 377.3L961.0 380.7L959.8 383.5L957.9 385.6L956.7 388.5L956.2 392.1L954.4 394.4L951.2 395.5L948.1 395.3L945.1 393.8L942.5 392.9L940.0 392.7L937.4 392.2L934.6 391.3L933.1 389.5L932.8 386.8L931.9 384.3L930.5 382.2L929.5 379.5L929.1 376.3L928.9 373.9L928.9 372.2 M877.5 356.0L879.3 355.6L883.5 356.4L886.7 358.4L889.0 361.3L891.7 364.2L894.8 367.0L897.4 369.1L899.7 370.6L902.3 372.5L905.1 374.8L907.2 377.8L908.5 381.4L909.9 384.3L911.3 386.4L913.4 388.6L916.2 390.7L917.3 394.8L916.7 400.7L915.2 403.6L912.8 403.4L909.6 401.5L905.6 397.8L902.4 394.4L900.1 391.2L898.3 388.0L897.0 384.9L895.2 381.9L892.8 379.1L891.1 376.1L890.1 372.9L888.2 370.1L885.3 367.5L882.5 364.3L879.6 360.5L877.9 357.7L877.5 356.0 M915.1 408.6L914.8 407.0L916.4 405.1L919.4 404.9L924.0 406.4L928.2 407.4L931.9 408.1L934.2 407.8L935.2 406.8L937.2 406.8L940.4 407.8L943.5 409.2L946.8 410.9L948.3 412.8L948.0 415.0L945.6 415.7L941.2 415.1L936.2 414.1L930.7 412.8L925.6 411.8L921.0 410.9L917.5 409.9L915.1 408.6 M969.9 376.1L971.0 375.1L972.9 374.0L975.7 373.8L979.4 374.4L983.1 374.1L986.8 372.8L988.3 373.4L987.4 375.7L985.6 377.0L982.8 377.2L979.5 377.2L975.7 377.0L973.0 377.4L971.1 378.5L970.6 380.1L971.5 382.2L973.4 383.2L976.2 382.9L978.8 382.7L981.2 382.5L981.2 383.5L978.7 385.6L977.0 386.9L976.0 387.3L976.5 389.1L978.2 392.3L979.6 395.0L980.5 397.1L980.4 399.0L979.4 400.7L978.0 400.9L976.2 399.6L974.8 397.2L974.0 393.6L973.1 391.8L972.2 391.8L971.5 394.4L971.2 399.8L970.2 402.4L968.5 402.4L967.7 400.3L967.9 396.0L967.3 393.0L966.0 391.3L966.1 388.7L967.5 385.1L968.5 381.9L969.1 379.1L969.6 377.2L969.9 376.1 M1011.2 382.9L1012.6 382.0L1015.5 381.1L1018.3 381.1L1021.1 382.0L1023.3 385.1L1025.0 390.4L1028.3 391.3L1033.0 387.9L1037.3 386.8L1041.0 387.8L1044.2 388.8L1047.0 389.6L1050.2 390.8L1053.9 392.3L1057.1 393.7L1059.9 395.0L1062.5 396.8L1064.8 399.1L1067.5 401.3L1070.5 403.5L1072.2 405.3L1072.7 406.8L1072.2 407.7L1070.6 408.2L1070.7 409.5L1072.4 411.9L1074.5 414.7L1077.1 417.8L1079.4 420.3L1081.5 422.0L1081.4 423.0L1079.1 423.2L1076.2 422.8L1072.5 422.0L1069.5 420.0L1066.9 416.8L1064.3 414.3L1061.6 412.6L1059.3 412.6L1057.3 414.3L1055.3 415.9L1053.4 417.4L1051.0 418.1L1048.2 417.8L1045.0 416.6L1041.5 414.2L1038.7 413.4L1036.8 414.0L1036.0 412.9L1036.2 410.2L1037.0 408.3L1038.6 407.2L1038.7 405.6L1037.4 403.5L1034.9 401.5L1031.3 399.5L1027.6 397.8L1023.9 396.3L1020.9 395.7L1018.7 395.9L1016.9 394.8L1015.4 392.2L1016.4 390.4L1019.8 389.3L1020.0 388.7L1017.0 388.5L1014.4 387.4L1012.3 385.5L1011.2 384.0L1011.2 382.9 M937.4 475.3L938.5 472.4L939.9 472.0L942.4 470.7L946.0 468.6L950.2 467.0L955.0 465.9L959.8 464.7L964.6 463.2L968.5 460.7L971.4 457.3L972.9 454.6L973.0 452.4L974.3 451.7L976.8 452.3L978.4 451.5L979.2 449.1L980.8 447.0L983.3 445.1L986.1 442.7L989.2 440.0L992.0 439.4L994.6 441.2L997.3 442.1L1000.1 442.3L1002.1 440.4L1003.5 436.4L1005.0 433.7L1006.6 432.4L1009.1 431.4L1012.3 430.5L1014.1 429.3L1014.5 427.8L1017.3 427.8L1022.5 429.3L1026.3 430.3L1028.6 430.7L1028.9 432.3L1027.1 435.1L1025.6 437.9L1024.3 440.6L1024.5 443.1L1026.0 445.2L1028.4 447.3L1031.7 449.5L1034.2 451.3L1035.8 452.8L1037.8 453.5L1040.2 453.5L1042.4 451.4L1044.4 447.1L1046.0 442.3L1047.1 437.0L1048.1 432.2L1049.2 428.0L1050.2 425.5L1051.3 424.9L1052.5 426.5L1053.8 430.3L1054.4 434.1L1054.1 438.0L1055.4 440.6L1058.4 442.1L1059.8 444.5L1059.6 447.6L1059.7 451.7L1060.1 456.6L1061.4 459.7L1063.5 460.9L1065.7 462.8L1068.0 465.1L1069.3 467.9L1069.5 471.1L1070.6 473.7L1072.5 475.8L1073.8 478.0L1074.6 480.1L1076.0 482.8L1077.9 486.0L1078.4 489.5L1077.6 493.3L1077.0 496.7L1076.8 499.7L1075.3 503.6L1072.4 508.5L1070.0 512.3L1067.9 515.1L1065.1 518.2L1061.5 521.6L1058.3 525.0L1055.3 528.4L1052.5 532.0L1049.7 535.8L1047.6 538.3L1046.1 539.3L1043.6 540.1L1039.9 540.5L1036.5 541.8L1033.4 543.9L1031.0 544.2L1029.5 542.7L1027.2 542.5L1024.1 543.6L1021.0 543.6L1018.1 542.5L1015.7 541.1L1013.9 539.4L1013.4 536.8L1014.2 533.2L1013.7 531.1L1011.9 530.4L1011.5 529.4L1012.5 527.9L1013.1 525.2L1013.3 521.4L1012.3 520.4L1010.2 522.4L1009.0 524.7L1008.8 527.5L1007.6 528.4L1005.3 527.6L1003.8 527.0L1003.0 526.8L1002.1 524.9L1001.1 521.3L999.5 518.4L997.2 516.3L995.0 514.7L992.7 513.6L989.1 513.6L984.3 514.7L979.5 515.5L974.8 516.2L970.5 517.2L966.4 518.7L963.6 520.4L962.1 522.4L959.6 523.2L956.1 523.0L953.0 523.1L950.2 523.5L946.7 524.8L942.5 526.9L938.6 527.9L935.2 527.7L932.9 526.9L931.7 525.7L931.9 523.6L933.4 520.9L934.8 518.4L936.0 516.3L936.4 513.6L935.9 510.4L935.8 506.7L935.9 502.5L935.9 498.7L935.8 495.5L935.4 492.9L934.8 490.7L934.9 488.1L935.7 484.9L936.6 480.6L937.4 475.3 M1021.8 554.0L1023.7 552.6L1026.3 553.4L1029.3 553.6L1032.6 553.2L1033.4 554.4L1031.5 557.1L1029.4 559.5L1026.9 561.6L1024.4 563.0L1021.8 563.6L1020.4 562.9L1020.1 560.8L1020.6 557.8L1021.8 554.0 M213.1 285.5L213.6 284.6L217.5 282.3L221.3 281.0L224.9 280.8L228.1 281.3L230.6 282.6L233.6 284.1L237.0 285.8L240.4 287.6L243.8 289.5L246.6 291.1L248.8 292.4L249.1 293.3L247.5 294.0L244.5 294.3L239.9 294.3L237.9 293.5L238.7 292.1L238.0 290.3L235.9 288.4L233.1 286.9L229.6 285.9L226.6 284.8L224.0 283.8L221.3 283.5L218.5 284.2L215.7 284.8L213.1 285.5 M249.9 300.6L249.7 298.8L252.6 295.8L255.5 294.3L258.2 294.3L261.0 294.5L263.7 294.9L266.4 296.3L269.0 298.7L269.8 300.1L268.6 300.8L266.6 301.1L263.9 301.1L261.5 301.7L259.5 303.0L257.7 303.1L255.9 302.1L253.4 301.2L249.9 300.6 M234.7 301.6L235.6 301.3L239.2 301.7L240.2 302.3L238.4 302.9L236.6 302.7L234.7 301.6 M274.6 301.1L276.1 300.8L278.8 301.0L279.9 301.4L279.2 302.1L277.8 302.4L275.6 302.4L274.6 301.9L274.6 301.1 M343.0 118.2L340.0 119.3L335.9 118.7L332.2 117.2L328.7 114.7L326.1 112.5L324.5 110.6L320.7 109.8L314.7 110.2L312.2 109.2L313.1 107.0L316.7 105.4L323.1 104.5L328.3 102.2L332.3 98.6L333.0 95.8L330.3 94.0L327.9 92.2L325.9 90.3L322.6 89.4L317.9 89.4L313.9 89.0L310.7 88.1L306.5 87.7L301.1 87.7L299.1 86.4L300.4 83.8L303.2 81.1L307.5 78.2L312.3 76.6L317.6 76.4L322.7 76.4L327.7 76.6L332.0 77.5L335.7 79.0L338.8 80.7L341.2 82.4L343.8 83.9L346.6 85.3L348.9 86.8L350.9 88.6L352.1 90.5L352.6 92.7L354.1 95.0L356.7 97.4L359.2 99.3L361.7 100.7L360.6 103.0L355.8 106.1L351.7 108.2L348.2 109.1L346.4 110.7L346.2 113.0L345.1 115.5L343.0 118.2 M348.2 67.2L344.2 68.0L339.7 67.7L333.7 67.5L326.3 67.5L322.7 66.7L322.9 65.2L326.0 63.6L332.2 62.0L335.9 59.9L337.0 57.1L336.1 55.2L333.3 54.0L335.6 52.9L343.1 51.6L352.6 50.5L364.1 49.4L375.3 48.9L386.4 48.9L394.9 49.3L400.9 49.9L401.4 50.8L396.6 52.1L390.6 53.4L383.4 54.6L377.3 56.0L372.2 57.4L367.3 58.6L362.5 59.7L358.4 61.3L354.9 63.3L351.5 65.3L348.2 67.2 M287.7 106.5L291.3 104.6L295.9 104.2L299.5 105.4L302.3 108.2L302.3 110.6L299.5 112.5L295.2 113.9L289.4 114.9L285.8 114.4L284.4 112.5L285.0 109.8L287.7 106.5 M334.7 176.9L334.6 173.9L339.8 167.9L344.3 163.8L348.0 161.6L349.0 162.1L347.3 165.3L348.2 167.7L351.8 169.2L353.6 171.8L353.6 175.5L352.6 178.3L350.7 180.2L348.2 180.8L345.1 180.2L343.4 179.1L343.0 177.7L340.2 176.9L334.7 176.9 M115.3 165.9L116.1 164.2L120.0 165.2L122.2 167.6L122.9 171.3L122.1 173.0L119.8 172.6L117.5 170.2L115.3 165.9 M568.1 217.6L570.9 217.0L576.5 216.3L578.8 217.7L578.0 221.1L575.2 221.7L570.5 219.6L568.1 218.2L568.1 217.6 M554.0 205.1L555.1 204.6L557.7 204.6L558.9 206.5L558.8 210.3L557.8 212.4L555.7 212.8L554.6 211.4L554.5 208.3L554.3 206.2L554.0 205.1 M555.3 198.9L556.0 197.7L557.4 196.7L558.1 197.2L558.3 199.3L558.1 201.0L557.5 202.3L556.8 202.4L555.8 201.3L555.3 200.2L555.3 198.9 M608.2 228.5L609.6 228.2L614.6 228.8L615.6 229.5L612.8 230.1L610.4 229.8L608.2 228.5 M638.9 230.4L640.2 229.3L644.1 227.8L645.6 227.8L644.7 229.3L643.4 230.4L641.6 231.3L640.2 231.3L638.9 230.4 M229.0 66.2L237.3 64.0L247.1 64.5L246.4 66.8L236.0 68.7L230.4 68.2L229.0 66.2 M260.4 62.7L265.3 61.7L269.5 63.1L266.7 65.5L261.8 65.0L260.4 62.7 M240.8 71.0L249.9 68.2L256.9 70.3L262.5 67.5L268.8 71.0L263.9 73.8L255.5 73.1L247.1 73.8L240.8 71.0 M274.3 68.2L277.8 66.8L279.2 70.3L276.4 71.0L274.3 68.2 M282.0 68.9L287.6 66.8L293.2 68.2L290.4 72.4L284.1 73.1L282.0 68.9 M287.6 59.2L293.2 57.8L297.4 62.0L293.2 63.4L287.6 59.2 M300.2 61.3L304.4 60.3L306.4 63.4L302.3 64.1L300.2 61.3 M296.0 66.2L301.6 65.5L304.4 67.5L298.8 68.9L296.0 66.2 M312.7 57.8L321.1 54.3L332.3 53.6L333.7 57.8L328.1 61.3L318.3 62.0L312.7 57.8 M315.5 65.5L326.7 64.1L337.9 64.8L330.9 67.5L318.3 68.2L315.5 65.5 M304.4 68.9L312.7 67.5L330.9 68.9L329.5 72.4L312.7 71.7L305.8 73.1L304.4 68.9 M268.0 80.1L270.0 77.0L273.6 75.2L282.0 75.2L282.5 78.0L280.6 80.8L277.0 83.0L273.6 84.3L270.0 83.0L268.0 80.1 M284.8 80.1L293.2 75.2L299.5 75.9L293.2 79.4L286.2 81.5L284.8 80.1 M295.3 85.0L297.0 81.0L300.2 78.0L311.3 75.9L311.5 79.0L309.9 81.5L305.8 85.7L298.8 87.8L295.3 85.0 M259.7 92.7L265.3 90.6L270.1 92.7L266.7 94.8L261.1 94.8L259.7 92.7 M217.0 76.0L223.0 78.0L234.5 74.5L236.0 77.0L240.0 79.0L247.0 82.0L255.5 79.4L257.0 85.0L252.7 91.3L243.0 92.7L229.0 94.8"/><path d="M126.1 171.1L216.9 171.1L218.2 172.4L225.5 174.5L233.3 175.3L237.3 174.0 M246.3 180.3L246.6 181.5L248.9 183.6L250.8 186.5L246.9 196.2L243.4 199.5L244.2 201.6L258.1 197.0L259.3 194.1L269.0 191.1L275.4 187.7L287.1 187.7L291.7 184.8L294.8 181.5L299.0 177.8L302.8 178.2L300.9 184.4L302.2 187.7 M222.2 180.7L228.8 180.7L235.9 179.9L238.3 181.5L245.0 181.5L246.6 181.5L247.7 177.4L245.9 173.2L237.9 172.8L233.3 175.3L222.2 180.7 M227.1 201.6L227.9 196.2L233.5 187.7L240.6 183.6L243.3 184.8L235.6 192.0L232.1 198.3L227.1 201.6 M245.6 183.6L248.5 184.4L254.6 185.7L258.2 188.6L252.7 189.9L249.8 194.9L246.9 196.2L245.7 192.0L246.9 187.7L245.6 183.6 M241.6 201.2L247.4 202.1L257.9 197.4L254.5 197.4L247.3 198.3L241.6 201.2 M256.6 194.9L264.0 194.9L268.9 192.8L266.9 192.0L259.8 192.8L256.6 194.9 M155.1 90.9L112.0 125.7L116.6 126.8L117.0 130.8L125.9 128.0L127.0 132.8L126.0 139.9L127.8 142.7L123.9 146.6 M107.1 240.2L116.1 239.8L127.0 245.8L137.0 245.8L137.8 243.6L143.9 243.6L147.9 252.6L152.5 255.5L155.2 252.1L158.8 252.1L162.4 259.0L163.5 261.9L164.1 266.6L169.8 268.3 M180.0 316.8L180.7 313.9L183.0 310.9L187.5 310.5L184.8 305.8L186.7 303.2L193.3 303.2L192.2 310.9L194.8 310.9 M193.3 303.2L197.0 300.2 M191.4 317.7L191.2 315.6L193.9 318.6L196.2 321.5L197.1 323.7 M188.1 320.7L189.9 318.1L191.4 317.7L194.7 311.7 M197.1 323.7L203.0 320.3L208.9 316.4L213.8 315.1 M202.6 332.2L210.4 332.6 M213.0 343.7L214.0 338.6 M256.3 326.2L252.1 332.2L251.5 340.7L253.0 347.9L260.4 349.2L269.6 352.6L269.3 362.0L271.0 370.5L271.3 373.9 M271.3 373.9L259.7 372.6L261.5 383.3L260.0 396.9 M260.0 396.9L252.3 389.6L244.7 383.3L239.0 379.4 M239.0 379.4L231.6 376.9L226.0 373.9 M239.0 379.4L239.2 385.4L230.0 393.9L226.4 400.3L221.4 393.5 M260.0 396.9L248.8 400.3L245.6 410.9L251.6 419.4L259.1 419.4L259.1 425.8L263.2 425.8 M263.2 425.8L266.7 432.2L264.6 442.9L267.1 449.2L265.8 453.5L263.2 456.9 M263.2 425.8L274.1 421.6L278.7 423.7L280.3 430.1L291.9 436.5L297.5 437.7L300.3 448.0L306.6 448.4L308.2 453.5L309.9 459.9L308.5 464.1 M308.5 464.1L294.6 464.1L293.5 473.5 M293.5 473.5L286.7 474.8L280.8 471.8L277.0 476.1 M277.0 476.1L272.6 470.5L270.4 462.0L265.8 453.5 M277.0 476.1L273.2 483.3L275.1 493.9L272.8 506.7L274.7 519.5L277.1 532.2L278.7 545.0L281.2 557.6L286.1 570.3L289.2 582.7L291.3 591.0L298.7 599.2L310.8 600.4 M308.5 464.1L311.0 472.7L318.8 473.9L320.3 481.2L324.7 481.2L324.5 488.0 M293.5 473.5L300.2 480.3L311.7 485.4L313.5 487.6L311.1 494.8L320.6 495.2L324.5 488.0 M324.5 488.0L328.4 494.8L322.0 499.9L316.8 507.6 M316.8 507.6L316.8 517.3L317.5 523.7 M316.8 507.6L323.1 510.1L331.2 514.4L334.9 522.5 M296.1 342.8L292.7 353.5L294.8 356.9L298.1 360.7L298.3 370.5L302.7 373.5L308.4 370.5L312.1 370.5L317.7 369.2L325.2 369.2L328.3 362.0 M271.3 373.9L276.5 375.6L282.2 371.8L282.4 362.0L288.0 362.0L294.8 356.9 M308.0 353.5L305.5 362.0L310.2 370.5 M319.9 354.3L318.1 366.2L317.7 369.2 M565.2 130.8L567.0 127.6L569.2 123.0L568.3 120.3L568.7 115.3L573.6 109.6L575.0 104.0L579.1 98.6L583.1 96.0L589.9 93.1L591.5 92.7 M591.5 92.7L599.7 97.1L600.7 102.2L602.3 104.8 M591.5 92.7L595.3 93.8L603.5 94.2L605.8 89.8L611.2 89.4L614.2 92.3L618.8 90.2 M614.2 92.3L613.2 94.9L617.8 98.6L615.9 101.1L618.7 105.1L618.3 108.5L620.8 110.7L624.4 115.7L619.3 121.8L614.6 124.9 M615.6 128.8L614.4 131.6L614.7 135.5L616.9 141.9L612.7 143.8L610.4 149.5L603.6 151.1L604.2 156.4L604.4 160.9L605.9 163.7L602.0 170.3L601.7 170.7 M614.7 135.5L607.1 135.1L605.0 135.1 M612.7 143.8L606.0 141.5L595.3 142.3 M603.6 151.1L601.2 149.1L591.8 149.1 M601.2 149.1L600.8 146.6L596.0 145.4 M574.6 151.1L574.3 155.6L575.9 158.8L576.9 162.9L576.2 163.3L581.8 166.2L586.6 167.0L589.9 169.5L593.2 169.9L601.7 170.7 M576.2 163.3L567.8 165.8L573.0 172.4L570.4 177.4L562.1 177.4L559.1 177.4L552.6 176.9L554.7 171.1L548.9 169.1L547.8 163.7L548.0 159.6L551.3 157.6L552.1 153.5 M556.7 147.0L560.5 147.4 M539.6 161.3L544.7 161.3L547.8 163.7 M536.6 162.5L541.8 167.0L546.9 169.1L548.9 169.1 M552.6 176.9L547.1 182.8L550.3 184.0L550.1 191.1L551.7 192.8 M550.3 184.0L557.0 183.6L561.7 181.1L559.1 177.4 M561.7 181.1L567.7 179.4L572.7 181.5L580.3 180.3L583.5 175.3L583.5 172.8L576.9 171.1L573.0 172.4 M495.9 200.8L503.7 201.2L501.3 208.8L500.1 215.2L499.0 220.7 M520.6 194.5L528.5 197.4L536.9 198.7 M583.5 175.3L589.5 176.1L595.0 173.2L600.6 173.6L602.9 175.7L597.6 182.3L594.6 182.8L589.7 184.0L582.0 181.5L580.3 180.3 M583.5 172.8L589.3 169.1L601.7 170.7L600.6 173.6 M602.9 175.7L609.6 176.5L615.0 174.0L620.8 181.5L621.1 185.7L626.2 186.9 M615.0 174.0L619.6 174.0L623.7 176.1L626.8 181.9L621.1 185.7 M594.6 182.8L603.0 191.1L610.8 193.2L617.5 191.5L623.0 193.2 M603.0 191.1L604.2 195.3L602.3 199.1L596.2 200.8L596.0 204.6L597.7 205.4L594.4 210.1 M602.3 199.1L604.5 203.3L611.3 203.3L615.7 201.6L614.9 205.4 M615.7 201.6L621.4 200.4 M597.7 205.4L604.5 203.3 M572.3 185.7L578.0 185.7L582.0 181.5 M579.7 186.9L580.4 191.1L585.5 196.2L589.0 198.3L591.3 194.1L591.9 191.1L590.4 188.2L579.7 186.9 M589.7 184.0L590.4 188.2 M592.1 200.8L594.4 197.8L596.2 200.8 M604.4 160.9L615.4 160.9L626.6 161.3L630.5 158.4L637.4 157.6L642.9 162.9L643.2 165.3L651.6 167.0L658.3 168.6L658.5 175.3L654.0 178.6 M616.9 141.9L625.8 144.2L626.6 148.7L632.1 152.7L630.5 158.4 M668.0 202.1L674.7 204.2L676.0 208.4L680.0 210.1L678.5 215.2L681.2 220.7 M650.9 225.8L653.1 222.4L657.6 222.4L664.6 221.9L672.5 220.7L681.2 220.7 M661.6 194.5L670.2 195.3L675.6 197.8L684.2 200.8L691.4 201.2 M684.2 200.8L679.8 203.3L674.7 204.2 M679.8 203.3L686.0 210.9L686.3 213.5 M680.0 210.1L686.3 213.5L691.1 210.9L694.9 215.6 M672.5 220.7L669.7 230.9L661.7 236.8L663.5 241.9L655.8 244.9L659.7 249.2L652.9 254.7L648.9 253.4 M663.5 241.9L673.9 247.0L684.2 254.7L690.7 255.1L694.3 255.5L696.0 253.4 M681.2 220.7L684.3 226.2L686.5 230.0L685.2 234.3L688.1 238.5L693.7 241.9L694.6 247.0L697.9 251.3 M690.7 255.1L694.5 257.7L698.1 257.7 M648.6 238.1L651.0 237.2L653.6 233.4L651.4 231.7 M651.0 237.2L650.6 240.7L650.5 244.9L649.2 253.0 M651.2 239.8L654.9 241.5L661.7 236.8 M646.3 245.8L648.9 253.4 M679.8 309.2L681.8 304.9L686.2 304.9L695.5 306.6L702.6 299.8L713.5 298.1L724.3 293.9L726.3 285.3L724.3 282.4L714.8 281.5L710.8 276.0 M713.5 298.1L718.1 307.9 M724.3 282.4L726.1 276.0L727.7 273.0 M713.3 220.2L719.7 216.9L724.2 216.4L732.5 220.2L738.9 223.2L738.4 233.0L741.2 244.9L744.7 247.0L742.2 252.1L750.3 263.2L752.0 265.8L747.6 272.2 M742.2 252.1L753.5 253.4L761.5 251.7L762.1 246.2L770.9 243.2L770.8 238.5L773.4 236.8L775.7 233.8L775.6 224.5L783.4 221.9L786.3 220.7 M738.9 223.2L739.7 227.5L745.8 226.2L750.6 224.1L756.8 219.8L762.4 221.5L767.1 219.0L769.3 217.7L770.0 216.0L773.4 217.3L775.2 222.8L780.5 219.8L786.3 220.7 M771.4 278.1L773.4 275.6L781.4 275.1L776.7 266.2L777.0 260.2L783.1 259.8L785.7 252.6L790.2 247.0L788.8 239.8L792.3 241.5L786.0 234.3L785.5 231.3L795.4 228.3L798.1 227.9 M786.3 220.7L789.9 222.8L798.1 227.9L803.5 233.0L803.9 240.7L805.7 240.7L806.0 245.8L814.1 250.4L817.6 250.0L825.8 256.0L833.6 259.8L841.3 260.2L843.7 259.8L845.0 262.8L847.2 259.0L854.0 260.7L858.5 257.7L865.2 254.7L869.3 253.8L874.3 259.0 M841.3 260.2L842.0 266.6L833.9 265.8L826.8 261.9L824.4 262.8L811.8 256.4L814.1 250.4 M854.0 260.7L856.1 264.5L848.3 265.3L845.0 262.8 M874.3 259.0L871.0 262.8L867.9 265.3L866.9 271.7L866.1 276.8L862.8 276.8L863.5 284.5L861.8 288.3L860.9 290.5 M842.4 266.6L848.8 268.3L849.3 271.3L859.0 272.6L855.2 276.8L856.8 281.1L859.4 278.1L861.8 288.3 M842.4 266.6L843.4 272.6L845.9 275.6L847.1 281.9L848.3 286.2 M874.3 259.0L879.8 261.5L881.3 269.2L877.8 273.9L878.9 276.8L883.3 276.8L883.4 280.2L886.2 281.9L885.5 284.9L889.5 287.5L893.3 288.8L889.8 292.6L882.5 295.1L880.8 300.2L886.3 309.6L885.5 314.7L889.8 322.8L891.8 328.8L889.3 335.2L888.3 336.4 M889.8 292.6L892.1 296.0L894.3 296.0L894.5 303.7L898.3 301.5L903.0 300.7L908.2 304.5L909.2 309.2L912.5 312.2L912.8 317.7L911.7 318.1L903.5 318.1L901.6 321.1L904.1 329.2 M911.7 318.1L914.6 318.1L920.0 316.4L921.0 326.6L914.9 329.6L916.6 332.2L912.6 332.6L910.1 334.7 M920.0 316.4L920.1 313.9L919.0 310.9L915.7 308.3L909.7 301.5L904.7 296.4L907.3 294.3L905.9 292.2L900.2 290.5L895.9 283.6 M893.3 288.8L895.5 288.8L894.4 283.2L895.9 283.6L902.4 282.8L907.0 279.8L912.5 281.9L912.6 285.3L918.1 287.5 M895.0 351.3L898.5 354.3L902.1 352.2 M931.1 370.5L932.7 374.7L939.4 374.7L943.9 372.6L949.5 372.6L951.2 367.1L952.9 360.7L960.4 360.7 M1048.4 390.1L1046.8 417.7 M688.2 181.5L680.2 173.2L681.2 165.8L686.3 167.0L691.6 160.1L700.6 161.7L705.9 163.7L713.8 162.9L720.7 164.5L726.4 162.1L721.0 157.6L722.7 152.3L723.1 150.7L733.5 148.7L744.9 145.4L752.8 149.9L760.9 150.7L770.5 149.5L775.9 153.5L786.6 163.7L796.9 162.9L805.7 168.6L813.0 170.7 M813.0 170.7L809.0 174.0L810.1 179.0L801.7 178.6L801.9 185.7L795.6 187.7L798.4 196.2L799.1 199.5L793.1 204.6L788.5 206.7L780.4 208.4L779.9 210.9L785.0 215.2L786.3 220.7 M813.0 170.7L819.8 168.2L826.3 163.7L836.6 167.0L845.3 164.9L843.1 158.8L856.9 161.3L859.2 164.9L871.6 165.8L876.8 168.2L888.5 170.3L897.5 165.8L907.2 167.4 M813.0 170.7L818.3 174.5L829.0 181.5L831.4 186.9L847.7 191.1L853.5 197.4L865.9 197.8L882.7 201.6L891.7 198.7L903.9 193.2L901.8 187.7L912.7 182.3L924.4 181.1L909.5 176.1L907.0 174.5L907.2 167.4 M907.2 167.4L915.1 167.0L913.4 156.8L915.2 153.1L927.4 154.4L941.2 165.8L954.5 171.5L959.1 176.5L969.5 173.6L972.7 186.9L967.1 188.2L970.3 196.2L970.8 199.1 M970.8 199.1L966.2 196.2L962.3 200.4L959.0 201.2L954.2 208.8 M965.7 218.1L970.5 214.7 M704.3 197.0L710.5 199.1L717.4 203.3L714.4 187.7L722.6 185.3L732.6 191.1L735.9 194.1L745.5 193.2L750.3 196.2L750.9 200.4L752.7 200.8L758.8 204.6L766.3 200.4L767.7 199.1L776.1 198.7L777.9 195.3L787.4 196.6L799.1 199.5 M717.4 203.3L720.8 203.3L725.0 197.0L730.3 199.5L731.4 202.9L737.7 203.7L740.9 208.8L747.6 213.2L756.8 219.8 M762.4 221.5L761.8 213.5L768.2 208.0L779.9 210.9 M767.7 199.1L767.5 205.0L763.1 208.0L762.0 210.9 M722.1 184.4L726.4 181.5L731.7 182.8L731.7 189.9L727.3 193.2L722.6 189.9L722.1 184.4 M861.6 160.5L865.0 156.8L869.5 150.7L871.0 143.8L868.8 143.5L867.5 149.9L862.7 155.6L861.6 160.5 M516.6 229.6L518.1 236.4L519.6 241.9L510.4 247.0L505.5 251.3L491.9 256.8L491.6 262.8L505.3 272.6L526.8 289.2L528.9 292.6L534.0 296.0L537.7 297.3L543.6 296.4L566.4 279.0 M491.7 261.1L476.2 261.1 M491.6 262.8L491.3 268.3L479.4 268.3L478.8 279.4L475.1 281.1L474.8 288.3L460.1 288.3 M505.3 272.6L499.1 272.6L501.7 308.8L502.3 313.0L487.5 313.0L479.4 312.6L476.7 316.0 M461.0 310.9L468.5 308.3L473.8 313.0L476.7 316.0L479.4 326.2 M465.9 332.2L470.9 325.4L479.4 326.2L488.3 326.2L491.9 335.6L489.9 346.6L486.5 347.5L482.1 343.7L483.2 340.7L479.9 336.4L475.1 336.9L472.0 340.7 M459.8 326.2L466.1 324.9L470.9 325.4 M482.1 343.7L478.6 349.6 M489.9 346.6L493.5 355.6L493.1 360.3 M510.3 357.3L511.1 349.2L511.6 338.6L511.3 332.2 M526.0 353.0L523.4 344.9L521.7 332.2 M527.5 352.6L527.6 340.7L524.7 332.2 M531.6 351.8L531.7 340.7L535.1 329.2 M501.2 334.7L511.3 332.2L521.7 332.2L524.7 332.2L530.3 326.6L535.1 329.2 M530.3 326.6L522.6 315.1L520.1 314.7L514.4 318.6L505.9 322.8L501.3 328.8L501.2 334.7 M491.9 335.6L499.3 333.9L501.2 334.7 M537.7 297.3L537.5 308.8L534.9 313.0L522.6 315.1 M535.1 329.2L536.7 321.5L547.8 323.7L555.2 324.5L561.5 322.0L568.2 323.2L571.9 320.7 M553.2 359.0L555.1 353.5L559.6 349.2L564.4 350.9L566.3 346.2L570.0 338.6L574.5 331.3L574.5 324.5L571.9 320.7 M557.6 250.4L558.9 264.1L559.2 274.7L566.4 279.0L574.5 282.8L577.4 281.1L581.0 279.0L610.5 296.0 M551.0 221.5L553.7 227.9L550.7 235.1L555.9 241.9L557.6 250.4L560.5 244.1L564.8 237.7 M613.0 244.5L614.0 285.3L614.1 293.9L610.5 293.9L610.5 296.0L610.7 312.2L605.2 319.4L603.4 324.9L606.8 332.2 M614.0 285.3L656.1 285.3 M577.4 281.1L579.2 289.6L579.3 307.5L571.9 317.3L571.9 320.7 M574.5 324.5L577.5 327.9L579.3 336.4L573.7 336.4L578.6 347.1L590.5 344.9L599.8 338.6L606.8 332.2L611.0 342.0L623.8 356.9 M578.6 347.1L575.6 353.5L576.0 359.8L581.2 369.6L583.5 364.1L590.9 364.1L590.9 360.7L605.5 361.5L614.8 357.7L623.8 356.9 M664.0 302.4L658.6 306.6L657.0 315.1L655.8 324.9L651.8 332.2L649.3 334.3L648.3 342.8L644.6 344.9L648.4 353.5L653.3 356.4 M657.1 318.1L666.3 316.8L673.1 319.0L679.2 325.8L677.1 332.2L681.5 330.0 M681.2 332.6L685.5 340.7L696.8 344.9L700.5 344.9L689.5 357.7L678.3 361.1L669.0 364.1L663.4 363.7L655.9 360.3L653.3 356.4L648.5 361.1 M678.3 361.1L674.6 367.1L674.7 379.0L676.5 386.2 M667.9 399.0L661.9 391.8L648.5 383.3L648.5 377.7L652.3 371.8L648.5 361.1L637.3 363.2L636.5 364.1L631.6 359.8L623.8 356.9 M611.0 342.0L620.3 338.6L625.9 339.4L629.6 336.4L637.0 337.3L644.4 334.3L644.3 327.9L649.3 334.3 M636.5 364.1L638.0 369.6L632.5 379.0L632.1 385.0L629.8 390.5L631.3 398.2L631.6 406.7L636.0 414.3 M632.1 385.0L635.4 383.3L648.5 383.3 M635.4 383.3L636.5 389.2L635.0 396.0L631.3 398.2 M636.0 414.3L644.1 419.0L648.2 419.4L649.9 428.0L655.5 428.8L663.0 427.1L672.0 423.7 M644.1 419.0L645.4 432.2L643.1 436.9L649.7 440.3L652.4 450.9L654.8 442.4L649.9 428.0 M636.0 414.3L628.2 415.2L627.4 418.6L628.0 430.1L632.3 436.0L629.4 436.0L625.7 431.8L618.3 429.7L612.4 427.1L610.8 434.3L603.4 434.3L603.5 425.8L604.6 423.7L602.8 410.1L594.3 408.8L592.4 413.1L586.8 413.5L583.5 404.1L570.0 404.1L567.4 404.5 M590.9 364.1L588.0 379.0L582.0 388.4L581.2 396.0L575.2 399.9L570.0 398.6L566.3 400.3 M562.9 395.6L566.3 389.2L575.2 387.5L575.6 381.6L573.7 373.0L570.8 369.6L563.7 369.6L563.7 374.7L558.0 374.7 M570.8 369.6L581.2 369.6 M558.0 369.2L563.7 369.6 M603.4 434.3L603.3 448.0L608.4 453.9L615.4 454.8 M565.6 452.2L573.7 453.1L590.3 453.1L608.4 453.9 M599.5 456.9L599.3 472.7L595.7 472.7L595.6 484.6L595.4 499.9L582.7 500.7 M595.6 484.6L598.0 493.5L604.9 490.1L606.5 486.7L615.9 488.0L620.8 479.9L630.1 473.5L637.0 474.4L639.3 483.3L638.9 493.1L642.2 493.5 M615.4 454.8L617.9 462.0L624.0 466.3L630.1 473.5 M637.0 474.4L641.5 469.7L643.6 462.0L643.4 455.6L643.9 450.1L637.7 447.1L634.4 445.4 M615.4 454.8L621.7 455.2L628.8 447.1L634.4 445.4L633.7 442.0L644.9 438.6L643.1 436.9 M620.4 505.0L626.0 500.7L629.1 505.0L624.9 509.3L620.4 505.0 M640.3 381.1L644.8 377.7L648.5 380.3L648.5 385.4L644.8 389.6L641.0 389.6L640.3 381.1"/></g></svg>
<div class="panel" id="pl"></div>
<div class="panel" id="pr"></div>

<div id="title" class="abs">France Engineered Quartz Slabs Market<br>2018 to 2032</div>

<!-- left heading -->
<div class="lbl c" id="h1" style="left:276.5px;top:137px;font-size:13.7px;letter-spacing:0.24px;color:#262626;">France Market Size, 2018, 2024 and 2032</div>
<div class="lbl c" id="h2" style="left:276.5px;top:159.4px;font-size:16px;letter-spacing:0.85px;font-weight:bold;color:#111;">(USD Million)</div>
<!-- right heading -->
<div class="lbl c" id="h3" style="left:845.5px;top:139px;font-size:16.8px;letter-spacing:1px;font-weight:bold;color:#111;">CAGR by Segment, %</div>

<!-- left chart -->
<div class="box" id="bl"></div>
<div class="grid" style="top:261px"></div>
<div class="grid" style="top:286px"></div>
<div class="grid" style="top:311px"></div>
<div class="grid" style="top:336px"></div>
<div class="grid" style="top:361px"></div>
<div class="grid" style="top:386px"></div>
<div class="grid" style="top:412px"></div>
<div class="grid" style="top:437px"></div>
<div class="grid" style="top:462px"></div>
<div class="bar" style="left:93.5px;top:370px;width:71px;height:92px;background:#bf8f00;"></div>
<div class="bar" style="left:238px;top:338px;width:70.5px;height:124px;background:#33a3a3;"></div>
<div class="bar" style="left:382px;top:282.4px;width:70.7px;height:179.6px;background:#0581b4;"></div>
<div class="lbl c" style="left:129.5px;top:352.8px;font-size:10.5px;">73.38</div>
<div class="lbl c" style="left:273.5px;top:320.5px;font-size:10.5px;">98.98</div>
<div class="lbl c" style="left:417.5px;top:264.5px;font-size:10.5px;">143.41</div>
<div class="lbl c" style="left:129px;top:468px;font-size:8px;color:#404040;">2018</div>
<div class="lbl c" style="left:273px;top:468px;font-size:8px;color:#404040;">2024</div>
<div class="lbl c" style="left:417px;top:468px;font-size:8px;color:#404040;">2032</div>

<!-- right chart -->
<div class="box" id="br"></div>
<div class="bar" style="left:623px;top:271px;width:210px;height:37px;background:#0581b4;"></div>
<div class="bar" style="left:623px;top:335px;width:304px;height:37px;background:#33a3a3;"></div>
<div class="bar" style="left:623px;top:400px;width:392px;height:37px;background:#2f7a9c;"></div>
<div class="lbl" style="left:840.5px;top:283.8px;font-size:10.5px;letter-spacing:-0.3px;">2.4%</div>
<div class="lbl" style="left:933.5px;top:348px;font-size:10.5px;letter-spacing:-0.3px;">3.4%</div>
<div class="lbl" style="left:1022.3px;top:412.6px;font-size:10.5px;letter-spacing:-0.3px;">4.4%</div>

<!-- legend -->
<div class="bar" style="left:654px;top:469.5px;width:5px;height:5px;background:#2f7a9c;"></div>
<div class="lbl" id="lg1" style="margin-top:1.7px;left:662px;top:465px;font-size:10px;letter-spacing:0.27px;">Polished Quartz Slabs</div>
<div class="bar" style="left:785.5px;top:469.5px;width:5px;height:5px;background:#33a3a3;"></div>
<div class="lbl" id="lg2" style="margin-top:1.7px;left:793px;top:465px;font-size:10px;letter-spacing:0.38px;">Textured Quartz Slabs</div>
<div class="bar" style="left:918px;top:469.5px;width:5px;height:5px;background:#0581b4;"></div>
<div class="lbl" id="lg3" style="margin-top:1.7px;left:926.5px;top:465px;font-size:10px;letter-spacing:0.39px;">Custom Quartz Designs</div>

<!-- logo -->
<svg class="abs" style="left:900px;top:32px" width="36" height="34" viewBox="900 32 36 34">
<circle cx="917.1" cy="49" r="11.4" fill="none" stroke="#506678" stroke-width="3"/>
<path d="M904.3 51.5 L904.1 60.8 L908.3 58 Z" fill="#506678"/>
<rect x="909.3" y="48.8" width="3.9" height="8.8" fill="#23a8c9"/>
<rect x="914.9" y="44.9" width="3.9" height="14.4" fill="#23a8c9"/>
<rect x="920.4" y="38.5" width="3.2" height="21" fill="#506678"/>
</svg>

<div class="lbl" id="logo" style="left:934px;top:35px;font-size:16.2px;letter-spacing:0.05px;color:#6b7b8a;"><span style="color:#3ab4d0">Credence</span> Research</div>
<div class="lbl" id="tag" style="left:934.5px;top:54.7px;font-size:5px;font-weight:bold;color:#555;letter-spacing:2.63px;">Actionable Insights Delivered</div>
</body>
</html>
